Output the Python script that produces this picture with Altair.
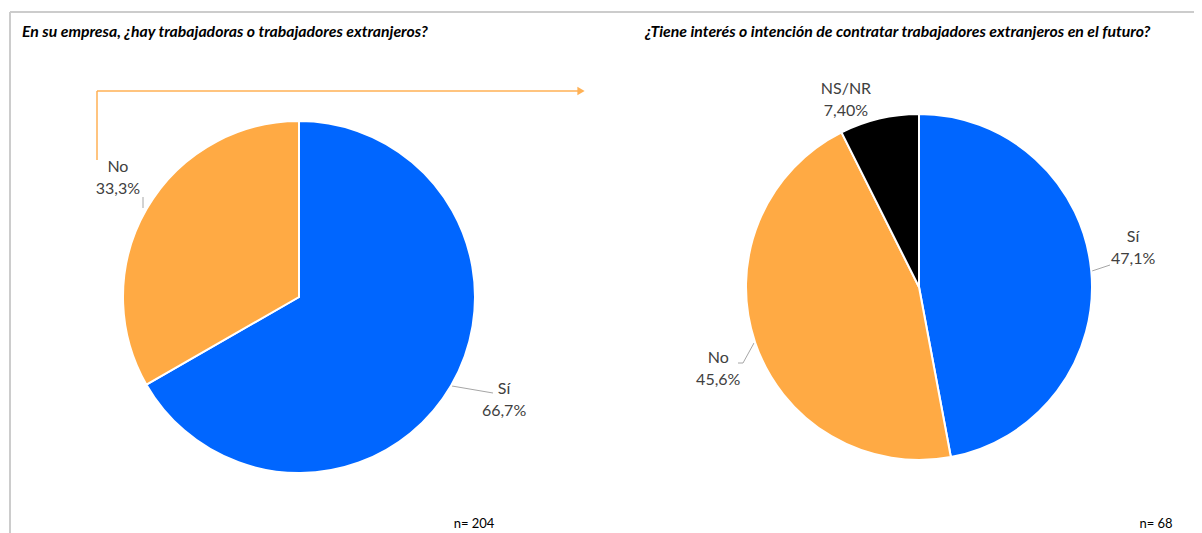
import altair as alt
import pandas as pd

# ---- data ----
left_categories = ["Sí", "No"]
left_values = [66.7, 33.3]
left_labels = ["66,7%", "33,3%"]
left_n = "n= 204"
left_title = "En su empresa, ¿hay trabajadoras o trabajadores extranjeros?"

right_categories = ["Sí", "No", "NS/NR"]
right_values = [47.1, 45.6, 7.4]
right_labels = ["47,1%", "45,6%", "7,40%"]
right_n = "n= 68"
right_title = "¿Tiene interés o intención de contratar trabajadores extranjeros en el futuro?"

color_domain = ["Sí", "No", "NS/NR"]
color_range = ["#0066FF", "#FFAA44", "#000000"]

FONT = "Lato"
LABEL_COLOR = "#404040"
ONE = alt.Data(values=[{}])


def make_df(cats, vals, labs):
    return pd.DataFrame({
        "cat": cats,
        "value": vals,
        "idx": list(range(len(cats))),
        "text": [c + "\n" + l for c, l in zip(cats, labs)],
    })


color_scale = alt.Scale(domain=color_domain, range=color_range)


def pie(df, cx, cy, r, label_specs):
    base = alt.Chart(df).encode(
        theta=alt.Theta("value:Q", stack=True),
        order=alt.Order("idx:Q"),
    )
    arc = base.mark_arc(radius=r, stroke="white", strokeWidth=2).encode(
        x=alt.value(cx), y=alt.value(cy),
        color=alt.Color("cat:N", scale=color_scale, legend=None),
    )
    layers = [arc]
    for cat, (R, dx, dy) in label_specs.items():
        layers.append(
            base.mark_text(radius=R, dx=dx, dy=dy, lineBreak="\n", font=FONT,
                           fontSize=16, lineHeight=22, color=LABEL_COLOR,
                           align="center", baseline="middle").encode(
                x=alt.value(cx), y=alt.value(cy),
                text=alt.condition(alt.datum.cat == cat, "text:N", alt.value("")),
            )
        )
    return alt.layer(*layers)


left_df = make_df(left_categories, left_values, left_labels)
right_df = make_df(right_categories, right_values, right_labels)

left_pie = pie(left_df, 291, 289, 176, {"No": (215, 5, -22), "Sí": (230, 6, -23)})
right_pie = pie(right_df, 911, 279, 173,
                {"Sí": (215, 0, -30), "No": (215, 3, 2), "NS/NR": (200, -27, -3)})


def rule(x, y, x2, y2, color, w):
    return alt.Chart(ONE).mark_rule(color=color, strokeWidth=w).encode(
        x=alt.value(x), y=alt.value(y), x2=alt.value(x2), y2=alt.value(y2))


def text(t, x, y, size=13, align="left", weight="normal", style="normal", color="black"):
    return alt.Chart(ONE).mark_text(font=FONT, fontSize=size, align=align, baseline="alphabetic",
                                    fontWeight=weight, fontStyle=style, color=color).encode(
        x=alt.value(x), y=alt.value(y), text=alt.value(t))


BORDER = "#cccccc"
ARROW = "#FFB155"
LEADER = "#a6a6a6"

annotations = [
    rule(2, 4, 1186, 4, BORDER, 2),
    rule(2, 4, 2, 525, BORDER, 2),
    rule(89, 152, 89, 83, ARROW, 1.5),
    rule(89, 83, 570, 83, ARROW, 1.5),
    alt.Chart(ONE).mark_point(shape="triangle-right", filled=True, color=ARROW, size=70, opacity=1).encode(
        x=alt.value(573), y=alt.value(83)),
    rule(135, 189, 135, 200, LEADER, 1),
    rule(444, 378, 485, 385, LEADER, 1),
    rule(1084, 263, 1102, 257, LEADER, 1),
    rule(746, 335, 735, 355, LEADER, 1),
    rule(735, 355, 730, 355, LEADER, 1),
    text(left_title, 14, 29, size=15.8, weight="bold", style="italic"),
    text(right_title, 637, 29, size=15.8, weight="bold", style="italic"),
    text(left_n, 466, 520, size=13, align="center"),
    text(right_n, 1148, 520, size=13, align="center"),
]

chart = alt.layer(*annotations, left_pie, right_pie).resolve_scale(
    theta="independent"
).properties(
    width=1186, height=525, autosize=alt.AutoSizeParams(type="none"), padding=0,
    background="white",
).configure_view(stroke=None)

chart.save("out.html", embed_options={"renderer": "svg", "actions": False})
